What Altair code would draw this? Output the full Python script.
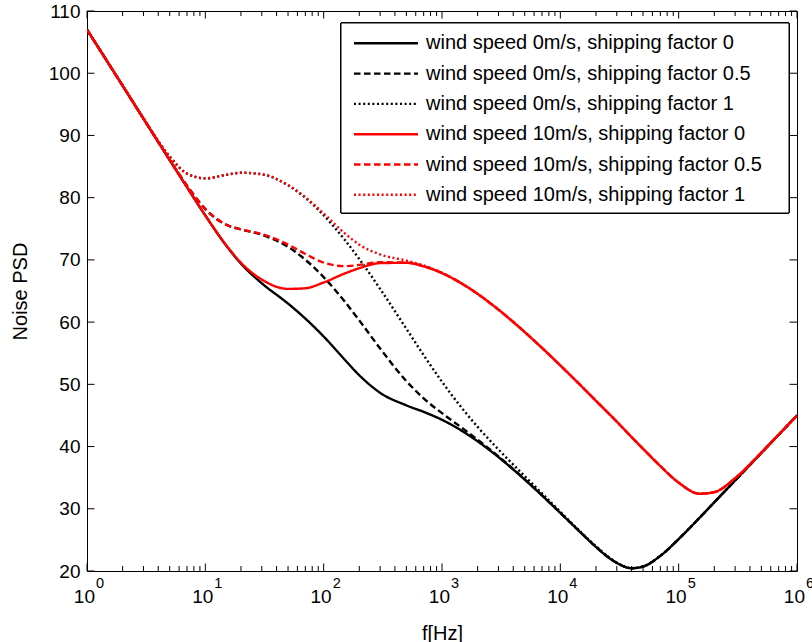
import altair as alt
import pandas as pd

# ---- data -------------------------------------------------------------
freq_hz = [1, 2, 3, 5, 7, 10, 15, 20, 30, 50, 70, 100, 150, 200, 300, 500, 700,
           1000, 1500, 2000, 3000, 5000, 7000, 10000, 15000, 20000, 30000, 40000,
           50000, 70000, 100000, 150000, 200000, 300000, 500000, 700000, 1000000]

w0_s0 = [107.0, 98.0, 92.7, 86.04, 81.68, 77.13, 72.31, 69.40, 66.24, 62.98, 60.57,
         57.69, 54.0, 51.46, 48.64, 46.62, 45.57, 44.3, 42.43, 40.84, 38.3, 34.69,
         32.14, 29.33, 26.1, 23.86, 21.29, 20.44, 20.71, 22.43, 25.13, 28.54, 31.04,
         34.55, 38.98, 41.9, 45.0]
w0_s05 = [107.0, 98.0, 92.7, 86.09, 81.93, 78.17, 75.64, 74.88, 74.04, 72.09, 70.03,
          67.22, 63.34, 60.28, 55.76, 50.52, 47.75, 45.37, 42.9, 41.11, 38.43, 34.74,
          32.17, 29.35, 26.12, 23.87, 21.3, 20.45, 20.72, 22.43, 25.13, 28.54, 31.04,
          34.55, 38.98, 41.9, 45.0]
w0_s1 = [107.0, 98.0, 92.74, 86.6, 83.87, 83.10, 83.67, 84.0, 83.75, 81.99, 79.98,
         77.17, 73.27, 70.14, 65.34, 58.93, 54.69, 50.41, 46.0, 43.16, 39.53, 35.24,
         32.46, 29.51, 26.2, 24.0, 21.35, 20.48, 20.74, 22.45, 25.14, 28.54, 31.04,
         34.55, 38.98, 41.9, 45.0]
w10_s0 = [107.0, 98.0, 92.7, 86.04, 81.68, 77.15, 72.36, 69.55, 66.84, 65.34, 65.45,
          66.37, 67.8, 68.67, 69.48, 69.53, 68.96, 67.87, 66.09, 64.53, 62.0, 58.4,
          55.85, 53.04, 49.74, 47.35, 44.0, 41.52, 39.64, 36.86, 34.2, 32.42, 32.67,
          34.92, 39.03, 41.91, 45.0]
w10_s05 = [107.0, 98.0, 92.7, 86.09, 81.93, 78.18, 75.66, 74.92, 74.15, 72.46, 70.95,
           69.56, 68.99, 69.19, 69.62, 69.57, 68.98, 67.9, 66.09, 64.54, 62.0, 58.4,
           55.85, 53.04, 49.74, 47.35, 44.0, 41.52, 39.64, 36.86, 34.2, 32.42, 32.67,
           34.92, 39.03, 41.91, 45.0]
w10_s1 = [107.0, 98.0, 92.74, 86.6, 83.87, 83.1, 83.67, 84.0, 83.76, 82.03, 80.08,
          77.47, 74.31, 72.45, 70.87, 69.88, 69.1, 67.93, 66.11, 64.56, 62.01, 58.41,
          55.86, 53.04, 49.74, 47.35, 44.0, 41.52, 39.64, 36.86, 34.2, 32.42, 32.67,
          34.92, 39.03, 41.91, 45.0]

series_names = [
    "wind speed 0m/s, shipping factor 0",
    "wind speed 0m/s, shipping factor 0.5",
    "wind speed 0m/s, shipping factor 1",
    "wind speed 10m/s, shipping factor 0",
    "wind speed 10m/s, shipping factor 0.5",
    "wind speed 10m/s, shipping factor 1",
]
series_values = [w0_s0, w0_s05, w0_s1, w10_s0, w10_s05, w10_s1]
series_colors = ["#000000", "#000000", "#000000", "#ff0000", "#ff0000", "#ff0000"]
series_dashes = [[1, 0], [6.5, 3.5], [2, 2.6], [1, 0], [6.5, 3.5], [2, 2.6]]

y_ticks = [20, 30, 40, 50, 60, 70, 80, 90, 100, 110]
x_major = [1, 10, 100, 1000, 10000, 100000, 1000000]
x_exponents = ["0", "1", "2", "3", "4", "5", "6"]

# ---- tables -------------------------------------------------------------
rows = []
for order, (name, vals) in enumerate(zip(series_names, series_values)):
    for f, v in zip(freq_hz, vals):
        rows.append({"f": f, "psd": v, "series": name, "order": order})
lines_df = pd.DataFrame(rows)

minor = [m * 10 ** k for k in range(6) for m in range(2, 10)]
major_df = pd.DataFrame({"f": x_major, "exp": x_exponents})
minor_df = pd.DataFrame({"f": minor})
ytick_df = pd.DataFrame({"v": y_ticks})
legend_df = pd.DataFrame({"series": series_names, "row": list(range(6))})

W, H = 710, 560
FONT = "Liberation Sans"

xscale = alt.Scale(type="log", domain=[1, 1000000], nice=False)
yscale = alt.Scale(domain=[20, 110], nice=False, zero=False)
cscale = alt.Scale(domain=series_names, range=series_colors)
dscale = alt.Scale(domain=series_names, range=series_dashes)

lines = alt.Chart(lines_df).mark_line(strokeWidth=2.4, interpolate="monotone", clip=True).encode(
    x=alt.X("f:Q", scale=xscale,
            axis=alt.Axis(title="f[Hz]", labels=False, ticks=False, domain=False, grid=False,
                          titleFontSize=20, titleFontWeight="normal", titleFont=FONT,
                          titleX=355, titleY=62, titleBaseline="middle", titleAlign="center")),
    y=alt.Y("psd:Q", scale=yscale,
            axis=alt.Axis(title="Noise PSD", values=y_ticks, ticks=False, domain=False, grid=False,
                          labelFontSize=19, labelFont=FONT, labelPadding=7, labelColor="black",
                          titleFontSize=20, titleFontWeight="normal", titleFont=FONT,
                          titleAngle=-90, titleX=-67, titleY=280, titleBaseline="middle",
                          titleAlign="center")),
    color=alt.Color("series:N", scale=cscale, legend=None),
    strokeDash=alt.StrokeDash("series:N", scale=dscale, legend=None),
    detail="series:N",
    order="order:Q",
)

# inward ticks (MATLAB style)
bot_major = alt.Chart(major_df).mark_rule(color="black", strokeWidth=1).encode(
    x=alt.X("f:Q", scale=xscale), y=alt.value(H), y2=alt.value(H - 7.5))
top_major = alt.Chart(major_df).mark_rule(color="black", strokeWidth=1).encode(
    x=alt.X("f:Q", scale=xscale), y=alt.value(0), y2=alt.value(7.5))
bot_minor = alt.Chart(minor_df).mark_rule(color="black", strokeWidth=1).encode(
    x=alt.X("f:Q", scale=xscale), y=alt.value(H), y2=alt.value(H - 5))
top_minor = alt.Chart(minor_df).mark_rule(color="black", strokeWidth=1).encode(
    x=alt.X("f:Q", scale=xscale), y=alt.value(0), y2=alt.value(5))
left_ticks = alt.Chart(ytick_df).mark_rule(color="black", strokeWidth=1).encode(
    y=alt.Y("v:Q", scale=yscale), x=alt.value(0), x2=alt.value(7.5))
right_ticks = alt.Chart(ytick_df).mark_rule(color="black", strokeWidth=1).encode(
    y=alt.Y("v:Q", scale=yscale), x=alt.value(W), x2=alt.value(W - 7.5))

# x tick labels 10^k
base_lbl = alt.Chart(major_df).mark_text(align="right", baseline="middle", dx=8,
                                         fontSize=19, font=FONT, color="black").encode(
    x=alt.X("f:Q", scale=xscale), y=alt.value(H + 26), text=alt.value("10"))
exp_lbl = alt.Chart(major_df).mark_text(align="left", baseline="middle", dx=9,
                                        fontSize=14.5, font=FONT, color="black").encode(
    x=alt.X("f:Q", scale=xscale), y=alt.value(H + 13), text="exp:N")

# legend (box, sample lines, labels)
leg_box = alt.Chart(legend_df).mark_rect(fill="white", stroke="black", strokeWidth=1).encode(
    x=alt.value(254), x2=alt.value(702), y=alt.value(12), y2=alt.value(202))
leg_layers = [leg_box]
for i in range(len(series_names)):
    ypix = 32.3 + 30.3 * i
    leg_layers.append(
        alt.Chart(legend_df).transform_filter(alt.datum.row == i).mark_rule(strokeWidth=2.4).encode(
            x=alt.value(267), x2=alt.value(331), y=alt.value(ypix),
            color=alt.Color("series:N", scale=cscale, legend=None),
            strokeDash=alt.StrokeDash("series:N", scale=dscale, legend=None),
        )
    )
    leg_layers.append(
        alt.Chart(legend_df).transform_filter(alt.datum.row == i).mark_text(
            align="left", baseline="middle", fontSize=20, font=FONT, color="black").encode(
            x=alt.value(339), y=alt.value(ypix), text="series:N")
    )

chart = alt.layer(
    lines, bot_major, top_major, bot_minor, top_minor, left_ticks, right_ticks,
    base_lbl, exp_lbl, *leg_layers,
).properties(
    width=W, height=H,
    autosize=alt.AutoSizeParams(type="none"),
    padding={"left": 87, "top": 11, "right": 15, "bottom": 71},
    background="white",
).configure_view(stroke="black", strokeWidth=1).configure_axis(grid=False)

chart.save("out.html", embed_options={"renderer": "svg", "actions": False})
